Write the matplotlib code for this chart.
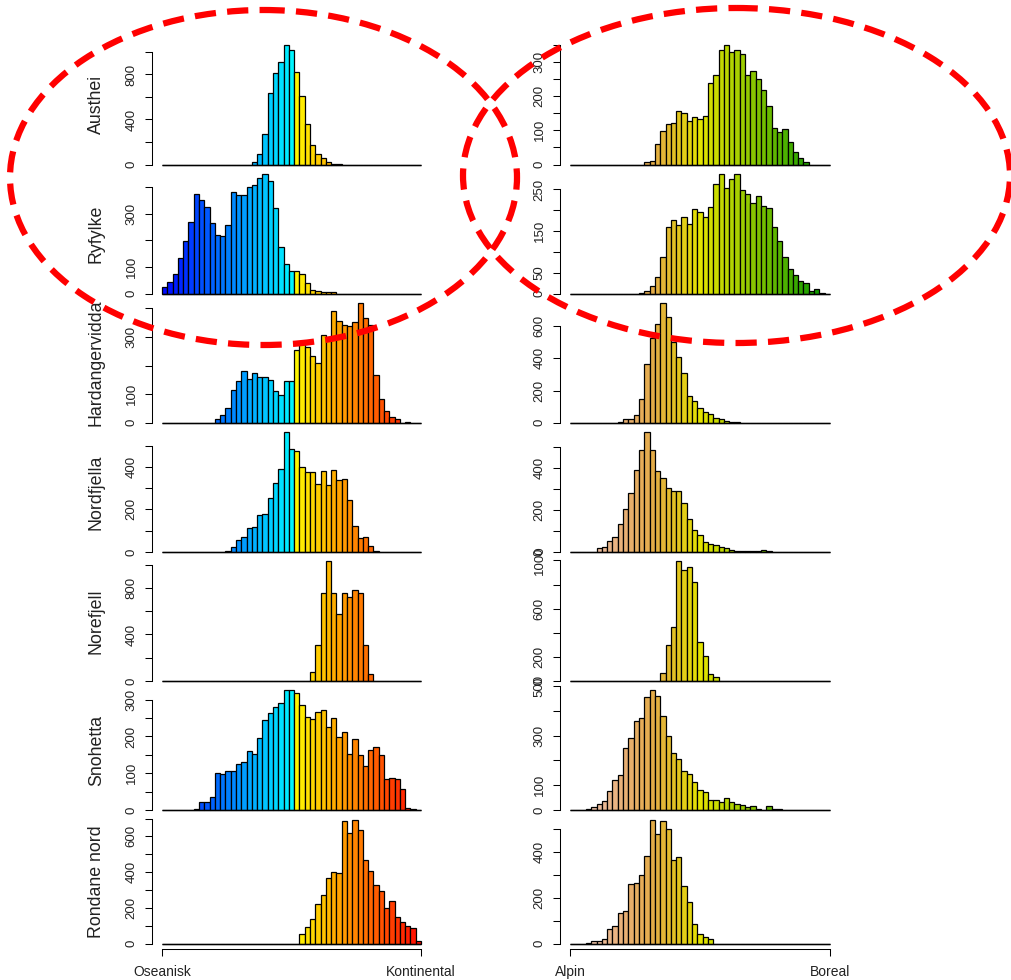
import numpy as np
import matplotlib
matplotlib.use("Agg")
import matplotlib.pyplot as plt
from matplotlib.patches import Ellipse

plt.rcParams['font.family'] = ['Liberation Sans', 'DejaVu Sans']

n_bins = 49
areas = ["Austhei", "Ryfylke", "Hardangervidda", "Nordfjella",
         "Norefjell", "Snohetta", "Rondane nord"]

# counts per bin, left column (Oseanisk -> Kontinental)
ok_austhei = [0]*17 + [21, 92, 267, 638, 810, 914, 1062, 1018, 825, 605, 356,
                       172, 95, 62, 21, 9, 2] + [0]*15
ok_ryfylke = [23, 45, 72, 134, 197, 270, 373, 350, 327, 266, 221, 215, 256, 381,
              369, 369, 399, 408, 435, 449, 423, 322, 174, 113, 85, 85, 72, 40,
              15, 10, 5, 5, 5] + [0]*16
ok_hardanger = [0]*10 + [13, 26, 52, 114, 145, 182, 153, 175, 159, 159, 149, 112,
                         96, 145, 145, 254, 274, 266, 232, 208, 308, 293, 392,
                         355, 342, 338, 351, 418, 365, 342, 167, 82, 40, 20, 13,
                         0, 3, 0, 0]
ok_nordfjella = [0]*12 + [5, 22, 56, 72, 111, 117, 172, 178, 256, 323, 389, 564,
                          484, 475, 400, 378, 378, 319, 380, 313, 384, 341, 345,
                          245, 122, 64, 70, 27, 5] + [0]*8
ok_norefjell = [0]*28 + [81, 311, 760, 1030, 760, 576, 760, 719, 783, 760, 311,
                         63] + [0]*9
ok_snohetta = [0]*6 + [3, 23, 23, 36, 101, 98, 107, 107, 124, 130, 160, 153, 196,
                       244, 263, 281, 290, 325, 325, 319, 286, 254, 248, 267, 271,
                       225, 251, 199, 211, 153, 192, 150, 120, 162, 172, 150, 84,
                       88, 84, 56, 6, 3, 0]
ok_rondane = [0]*26 + [52, 93, 140, 220, 272, 365, 401, 393, 686, 619, 693, 634,
                       466, 406, 326, 293, 198, 240, 151, 119, 99, 86, 15]

# counts per bin, right column (Alpin -> Boreal)
ab_austhei = [0]*14 + [6, 10, 59, 98, 118, 123, 158, 150, 128, 139, 132, 143, 238,
                       262, 335, 350, 328, 336, 325, 262, 273, 251, 217, 170, 108,
                       94, 104, 67, 37, 18, 7] + [0]*4
ab_ryfylke = [0]*13 + [2, 6, 18, 40, 87, 161, 176, 164, 185, 168, 202, 196, 185,
                       208, 263, 287, 254, 274, 287, 248, 240, 217, 234, 211, 205,
                       159, 127, 89, 59, 44, 30, 26, 6, 10, 2, 0]
ab_hardanger = [0]*9 + [6, 21, 21, 50, 145, 363, 527, 612, 743, 660, 502, 407, 309,
                        164, 135, 93, 66, 52, 29, 21, 8, 6, 6] + [0]*17
ab_nordfjella = [0]*5 + [17, 22, 51, 73, 134, 203, 282, 388, 486, 570, 486, 385,
                         354, 305, 291, 291, 231, 157, 104, 78, 49, 38, 32, 21, 17,
                         11, 5, 3, 3, 3, 2, 11, 3] + [0]*11
ab_norefjell = [0]*17 + [67, 295, 446, 992, 922, 944, 825, 326, 203, 56, 36] + [0]*21
ab_snohetta = [0]*3 + [4, 14, 24, 38, 77, 120, 141, 251, 291, 357, 372, 454, 482,
                       458, 381, 300, 231, 207, 158, 145, 112, 81, 72, 39, 39, 34,
                       47, 34, 24, 19, 11, 15, 5, 0, 15, 5, 4] + [0]*9
ab_rondane = [0]*3 + [4, 10, 10, 20, 63, 79, 135, 141, 260, 265, 301, 385, 541, 477,
                      537, 499, 365, 380, 250, 182, 84, 42, 31, 20] + [0]*22

left_counts = [ok_austhei, ok_ryfylke, ok_hardanger, ok_nordfjella,
               ok_norefjell, ok_snohetta, ok_rondane]
right_counts = [ab_austhei, ab_ryfylke, ab_hardanger, ab_nordfjella,
                ab_norefjell, ab_snohetta, ab_rondane]

# y tick step and which ticks carry a label
left_ticks = [(200, [0, 400, 800]), (100, [0, 100, 300]), (100, [0, 100, 300]),
              (100, [0, 200, 400]), (200, [0, 400, 800]), (50, [0, 100, 200, 300]),
              (100, [0, 200, 400, 600])]
right_ticks = [(50, [0, 100, 200, 300]), (50, [0, 50, 150, 250]),
               (200, [0, 200, 400, 600]), (100, [0, 200, 400]),
               (200, [0, 200, 600, 1000]), (100, [0, 100, 300, 500]),
               (100, [0, 200, 400])]
left_ends = ["Oseanisk", "Kontinental"]
right_ends = ["Alpin", "Boreal"]


def ramp(anchors, n):
    idx = [a[0] for a in anchors]
    rgb = np.array([a[1] for a in anchors], dtype=float)
    b = np.arange(n)
    return [tuple(np.interp(i, idx, rgb[:, c]) / 255 for c in range(3)) for i in b]


half = n_bins // 2
left_cols = ramp([(0, (0, 10, 255)), (half, (0, 245, 255))], half + 1)[:half + 1]
left_cols += ramp([(0, (255, 245, 0)), (n_bins - half - 2, (255, 10, 0))],
                  n_bins - half - 1)
right_cols = ramp([(0, (242, 215, 200)), (5, (236, 188, 155)), (10, (232, 175, 115)),
                   (15, (228, 172, 72)), (20, (226, 198, 30)), (24, (228, 228, 0)),
                   (30, (178, 212, 0)), (38, (95, 182, 0)), (48, (0, 150, 0))],
                  n_bins)

W, H = 1012, 980
fig = plt.figure(figsize=(W / 100, H / 100), dpi=100)

row_top = 40.2
row_h = [129.1] * 6 + [133.9]
col_x = [151.6, 559.6]
col_w = [279.8, 280.8]
txt = '#222222'

for c, (counts_list, ticks_list, cols, ends) in enumerate(
        [(left_counts, left_ticks, left_cols, left_ends),
         (right_counts, right_ticks, right_cols, right_ends)]):
    top = row_top
    for r in range(7):
        h = row_h[r]
        ax = fig.add_axes([col_x[c] / W, 1 - (top + h) / H, col_w[c] / W, h / H])
        top += h
        counts = counts_list[r]
        ax.bar(np.arange(n_bins), counts, width=1, align='edge', color=cols,
               edgecolor='black', linewidth=0.9)
        ax.hlines(0, 0, n_bins, color='black', linewidth=1.0)
        ax.set_xlim(-0.04 * n_bins, 1.04 * n_bins)
        m = max(counts)
        ax.set_ylim(-0.04 * m, 1.04 * m)
        ax.patch.set_alpha(0)
        for s in ['top', 'right']:
            ax.spines[s].set_visible(False)
        step, labeled = ticks_list[r]
        # like R: every pretty tick inside the padded range
        top_tick = step * int(1.04 * m // step)
        yt = np.arange(0, top_tick + 1, step)
        ax.set_yticks(yt)
        ax.set_yticklabels([str(t) if t in labeled else '' for t in yt],
                           rotation=90, va='center', fontsize=9.5, color=txt)
        ax.spines['left'].set_bounds(0, top_tick)
        ax.spines['left'].set_linewidth(0.75)
        ax.tick_params(axis='y', length=5, width=0.75, pad=5)
        for lab in ax.get_yticklabels():
            lab.set_clip_on(False)
        if c == 0:
            ax.text(-0.197, 0.5, areas[r], transform=ax.transAxes, rotation=90,
                    ha='center', va='center', fontsize=12.8, color=txt)
        if r == 6:
            ax.spines['bottom'].set_bounds(0, n_bins)
            ax.spines['bottom'].set_linewidth(0.75)
            ax.set_xticks([0, n_bins])
            ax.set_xticklabels(ends, fontsize=10, color=txt)
            ax.tick_params(axis='x', length=5, width=0.75, pad=6.5)
        else:
            ax.spines['bottom'].set_visible(False)
            ax.set_xticks([])

# red dashed highlight ellipses over the first two rows
ov = fig.add_axes([0, 0, 1, 1], zorder=10)
ov.set_xlim(0, W)
ov.set_ylim(H, 0)
ov.axis('off')
ov.patch.set_alpha(0)
for cx, cy, ew, eh in [(263.5, 177.5, 507, 335), (736.5, 175.5, 547, 335)]:
    ov.add_patch(Ellipse((cx, cy), ew, eh, fill=False, edgecolor='#ff0000',
                         linewidth=4.5, linestyle=(0, (3.4, 1.8))))

fig.savefig('out.png', dpi=100)
